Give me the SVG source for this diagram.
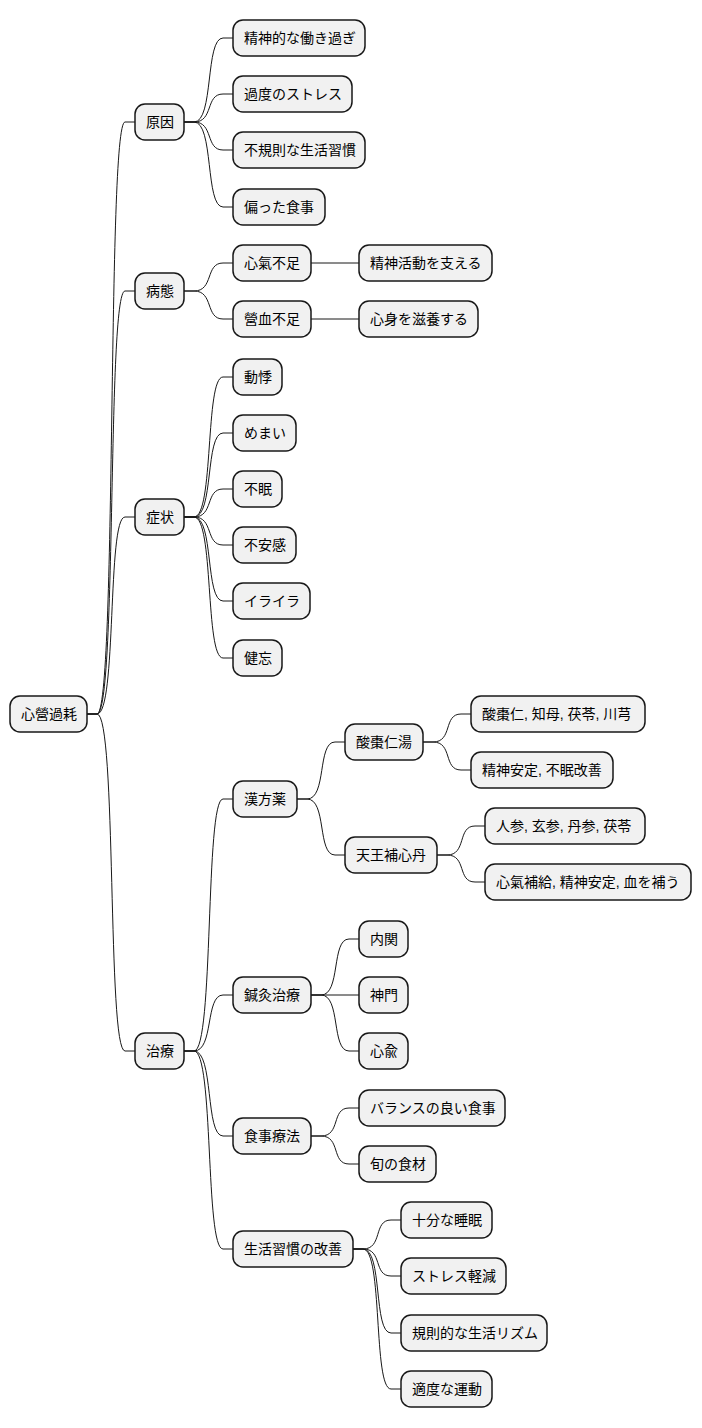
<svg xmlns="http://www.w3.org/2000/svg" width="702" height="1428" viewBox="0 0 702 1428">
<style>
rect{fill:#f1f1f1;stroke:#181818;stroke-width:1.5}
text{font-family:"Liberation Sans","Noto Sans CJK JP",sans-serif;font-size:14px;fill:#000}
#edges path{fill:none;stroke:#181818;stroke-width:1}
</style>
<g id="edges">
<path d="M87,714 l10,0 C117,714 107,122 125,122 l10,0"/>
<path d="M87,714 l10,0 C117,714 107,291 125,291 l10,0"/>
<path d="M87,714 l10,0 C117,714 107,517 125,517 l10,0"/>
<path d="M87,714 l10,0 C117,714 107,1051 125,1051 l10,0"/>
<path d="M184,122 l10,0 C214,122 205,38 223,38 l10,0"/>
<path d="M184,122 l10,0 C214,122 205,94 223,94 l10,0"/>
<path d="M184,122 l10,0 C214,122 205,150 223,150 l10,0"/>
<path d="M184,122 l10,0 C214,122 205,207 223,207 l10,0"/>
<path d="M184,291 l10,0 C214,291 205,263 223,263 l10,0"/>
<path d="M184,291 l10,0 C214,291 205,319 223,319 l10,0"/>
<path d="M311,263 L359,263"/>
<path d="M311,319 L359,319"/>
<path d="M184,517 l10,0 C214,517 205,377 223,377 l10,0"/>
<path d="M184,517 l10,0 C214,517 205,433 223,433 l10,0"/>
<path d="M184,517 l10,0 C214,517 205,489 223,489 l10,0"/>
<path d="M184,517 l10,0 C214,517 205,545 223,545 l10,0"/>
<path d="M184,517 l10,0 C214,517 205,601 223,601 l10,0"/>
<path d="M184,517 l10,0 C214,517 205,658 223,658 l10,0"/>
<path d="M184,1051 l10,0 C214,1051 205,799 223,799 l10,0"/>
<path d="M184,1051 l10,0 C214,1051 205,995 223,995 l10,0"/>
<path d="M184,1051 l10,0 C214,1051 205,1136 223,1136 l10,0"/>
<path d="M184,1051 l10,0 C214,1051 205,1249 223,1249 l10,0"/>
<path d="M297,799 l10,0 C327,799 317,742 335,742 l10,0"/>
<path d="M297,799 l10,0 C327,799 317,855 335,855 l10,0"/>
<path d="M423,742 l10,0 C453,742 443,714 461,714 l10,0"/>
<path d="M423,742 l10,0 C453,742 443,770 461,770 l10,0"/>
<path d="M437,855 l10,0 C467,855 457,826 475,826 l10,0"/>
<path d="M437,855 l10,0 C467,855 457,882 475,882 l10,0"/>
<path d="M311,995 l10,0 C341,995 331,939 349,939 l10,0"/>
<path d="M311,995 L359,995"/>
<path d="M311,995 l10,0 C341,995 331,1051 349,1051 l10,0"/>
<path d="M311,1136 l10,0 C341,1136 331,1108 349,1108 l10,0"/>
<path d="M311,1136 l10,0 C341,1136 331,1164 349,1164 l10,0"/>
<path d="M353,1249 l10,0 C383,1249 373,1220 391,1220 l10,0"/>
<path d="M353,1249 l10,0 C383,1249 373,1276 391,1276 l10,0"/>
<path d="M353,1249 l10,0 C383,1249 373,1333 391,1333 l10,0"/>
<path d="M353,1249 l10,0 C383,1249 373,1389 391,1389 l10,0"/>
</g>
<g id="n0"><rect x="10" y="696" width="77" height="36" rx="10"/><text x="21" y="719">心營過耗</text></g>
<g id="n1"><rect x="135" y="104" width="49" height="36" rx="10"/><text x="146" y="127">原因</text></g>
<g id="n2"><rect x="135" y="273" width="49" height="36" rx="10"/><text x="146" y="296">病態</text></g>
<g id="n3"><rect x="135" y="499" width="49" height="36" rx="10"/><text x="146" y="522">症状</text></g>
<g id="n4"><rect x="135" y="1033" width="49" height="36" rx="10"/><text x="146" y="1056">治療</text></g>
<g id="n5"><rect x="233" y="20" width="132" height="36" rx="10"/><text x="244" y="43">精神的な働き過ぎ</text></g>
<g id="n6"><rect x="233" y="76" width="119" height="36" rx="10"/><text x="244" y="99">過度のストレス</text></g>
<g id="n7"><rect x="233" y="132" width="132" height="36" rx="10"/><text x="244" y="155">不規則な生活習慣</text></g>
<g id="n8"><rect x="233" y="189" width="92" height="36" rx="10"/><text x="244" y="212">偏った食事</text></g>
<g id="n9"><rect x="233" y="245" width="78" height="36" rx="10"/><text x="244" y="268">心氣不足</text></g>
<g id="n10"><rect x="233" y="301" width="78" height="36" rx="10"/><text x="244" y="324">營血不足</text></g>
<g id="n11"><rect x="359" y="245" width="133" height="36" rx="10"/><text x="370" y="268">精神活動を支える</text></g>
<g id="n12"><rect x="359" y="301" width="119" height="36" rx="10"/><text x="370" y="324">心身を滋養する</text></g>
<g id="n13"><rect x="233" y="359" width="49" height="36" rx="10"/><text x="244" y="382">動悸</text></g>
<g id="n14"><rect x="233" y="415" width="63" height="36" rx="10"/><text x="244" y="438">めまい</text></g>
<g id="n15"><rect x="233" y="471" width="49" height="36" rx="10"/><text x="244" y="494">不眠</text></g>
<g id="n16"><rect x="233" y="527" width="63" height="36" rx="10"/><text x="244" y="550">不安感</text></g>
<g id="n17"><rect x="233" y="583" width="77" height="36" rx="10"/><text x="244" y="606">イライラ</text></g>
<g id="n18"><rect x="233" y="640" width="49" height="36" rx="10"/><text x="244" y="663">健忘</text></g>
<g id="n19"><rect x="233" y="781" width="64" height="36" rx="10"/><text x="244" y="804">漢方薬</text></g>
<g id="n20"><rect x="345" y="724" width="78" height="36" rx="10"/><text x="356" y="747">酸棗仁湯</text></g>
<g id="n21"><rect x="345" y="837" width="92" height="36" rx="10"/><text x="356" y="860">天王補心丹</text></g>
<g id="n22"><rect x="471" y="696" width="174" height="36" rx="10"/><text x="482" y="719">酸棗仁, 知母, 茯苓, 川芎</text></g>
<g id="n23"><rect x="471" y="752" width="142" height="36" rx="10"/><text x="482" y="775">精神安定, 不眠改善</text></g>
<g id="n24"><rect x="485" y="808" width="160" height="36" rx="10"/><text x="496" y="831">人参, 玄参, 丹参, 茯苓</text></g>
<g id="n25"><rect x="485" y="864" width="206" height="36" rx="10"/><text x="496" y="887">心氣補給, 精神安定, 血を補う</text></g>
<g id="n26"><rect x="233" y="977" width="78" height="36" rx="10"/><text x="244" y="1000">鍼灸治療</text></g>
<g id="n27"><rect x="359" y="921" width="49" height="36" rx="10"/><text x="370" y="944">内関</text></g>
<g id="n28"><rect x="359" y="977" width="49" height="36" rx="10"/><text x="370" y="1000">神門</text></g>
<g id="n29"><rect x="359" y="1033" width="49" height="36" rx="10"/><text x="370" y="1056">心兪</text></g>
<g id="n30"><rect x="233" y="1118" width="78" height="36" rx="10"/><text x="244" y="1141">食事療法</text></g>
<g id="n31"><rect x="359" y="1090" width="146" height="36" rx="10"/><text x="370" y="1113">バランスの良い食事</text></g>
<g id="n32"><rect x="359" y="1146" width="77" height="36" rx="10"/><text x="370" y="1169">旬の食材</text></g>
<g id="n33"><rect x="233" y="1231" width="120" height="36" rx="10"/><text x="244" y="1254">生活習慣の改善</text></g>
<g id="n34"><rect x="401" y="1202" width="91" height="36" rx="10"/><text x="412" y="1225">十分な睡眠</text></g>
<g id="n35"><rect x="401" y="1258" width="105" height="36" rx="10"/><text x="412" y="1281">ストレス軽減</text></g>
<g id="n36"><rect x="401" y="1315" width="146" height="36" rx="10"/><text x="412" y="1338">規則的な生活リズム</text></g>
<g id="n37"><rect x="401" y="1371" width="91" height="36" rx="10"/><text x="412" y="1394">適度な運動</text></g>
</svg>
